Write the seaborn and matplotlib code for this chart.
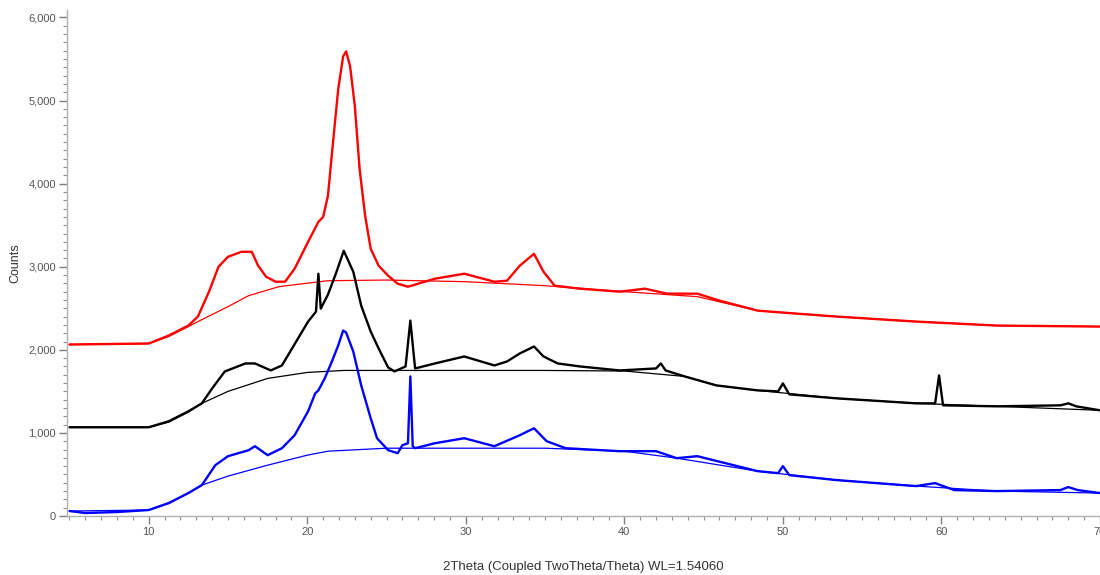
import matplotlib
matplotlib.use("Agg")
import matplotlib.pyplot as plt
import matplotlib.ticker as mticker
import seaborn as sns
import pandas as pd

# ---- data (2Theta in degrees, intensity in counts) ----
red_x = [5, 10, 11.26, 12.5, 13.1, 13.8, 14.4, 15.0, 15.85, 16.5, 16.9, 17.4, 18.0, 18.6, 19.2,
         20.05, 20.7, 21.0, 21.3, 21.6, 21.95, 22.26, 22.45, 22.7, 23.0, 23.3, 23.65, 24.0, 24.5,
         25.1, 25.7, 26.35, 28.05, 29.9, 31.8, 32.6, 33.4, 34.3, 34.9, 35.6, 37.2, 39.7, 41.3,
         42.7, 44.6, 46.0, 48.4, 50.0, 53.4, 58.4, 63.5, 70]
red_y = [2064, 2076, 2172, 2292, 2400, 2700, 3000, 3120, 3180, 3180, 3012, 2880, 2820, 2820, 2976,
         3300, 3540, 3600, 3852, 4452, 5136, 5532, 5592, 5412, 4932, 4176, 3612, 3216, 3012, 2892,
         2796, 2760, 2856, 2916, 2820, 2832, 3012, 3156, 2940, 2772, 2736, 2700, 2736, 2676, 2676,
         2592, 2472, 2448, 2400, 2340, 2292, 2280]
red_bg_x = [5, 10, 11.26, 12.5, 13.1, 15, 16.3, 18.2, 21.3, 25, 30, 35, 40, 44.6, 48.4, 53.4,
            58.4, 63.5, 70]
red_bg_y = [2064, 2076, 2160, 2280, 2340, 2520, 2652, 2760, 2832, 2840, 2820, 2772, 2700, 2640,
            2472, 2400, 2340, 2292, 2280]

black_x = [5, 10, 11.26, 12.5, 13.35, 14.0, 14.8, 16.1, 16.7, 17.7, 18.4, 19.3, 20.05, 20.55,
           20.7, 20.85, 21.3, 21.8, 22.3, 22.9, 23.4, 24.0, 24.5, 25.1, 25.5, 26.2, 26.5, 26.8,
           28.05, 29.9, 31.8, 32.6, 33.4, 34.3, 34.9, 35.8, 37.2, 39.7, 42.0, 42.3, 42.6, 43.8,
           45.8, 48.4, 49.7, 50.0, 50.4, 53.4, 58.4, 59.6, 59.85, 60.1, 63.5, 67.5, 68.0, 68.5, 70]
black_y = [1068, 1068, 1140, 1260, 1356, 1536, 1740, 1836, 1836, 1752, 1812, 2100, 2340, 2460,
           2916, 2496, 2664, 2916, 3192, 2940, 2532, 2220, 2016, 1788, 1740, 1800, 2352, 1776,
           1836, 1920, 1812, 1860, 1956, 2040, 1920, 1836, 1800, 1752, 1776, 1836, 1752, 1680,
           1572, 1512, 1500, 1596, 1464, 1416, 1356, 1356, 1692, 1332, 1320, 1332, 1356, 1320, 1272]
black_bg_x = [5, 10, 11.26, 12.5, 13.35, 15, 17.5, 20, 22.3, 25, 30, 35, 40, 43.8, 45.8, 48.4,
              53.4, 58.4, 63.5, 70]
black_bg_y = [1068, 1068, 1130, 1250, 1356, 1500, 1656, 1728, 1752, 1752, 1752, 1752, 1745, 1680,
              1572, 1512, 1416, 1356, 1320, 1272]

blue_x = [5, 6, 8, 10, 11.26, 12.5, 13.35, 14.2, 15.0, 16.3, 16.7, 17.5, 18.4, 19.2, 20.05, 20.5,
          20.7, 21.1, 21.5, 21.95, 22.26, 22.45, 22.9, 23.4, 24.0, 24.4, 25.1, 25.7, 26.0, 26.35,
          26.5, 26.65, 26.8, 28.05, 29.9, 31.8, 33.4, 34.3, 35.1, 36.3, 39.7, 42.0, 43.3, 44.6,
          48.4, 49.7, 50.0, 50.4, 53.4, 58.4, 59.6, 60.8, 63.5, 67.5, 68.0, 68.6, 70]
blue_y = [60, 36, 48, 72, 156, 276, 372, 612, 720, 792, 840, 732, 816, 972, 1260, 1476, 1512, 1656,
          1836, 2052, 2232, 2208, 1980, 1572, 1176, 936, 792, 756, 852, 876, 1680, 840, 816, 876,
          936, 840, 972, 1056, 900, 816, 780, 780, 696, 720, 540, 516, 600, 492, 432, 360, 396,
          312, 300, 312, 348, 312, 276]
blue_bg_x = [5, 10, 11.26, 12.5, 13.35, 15, 17.5, 20, 21.3, 25, 30, 35, 40, 43.3, 48.4, 53.4,
             58.4, 63.5, 70]
blue_bg_y = [60, 72, 150, 276, 372, 480, 612, 732, 780, 816, 816, 816, 780, 696, 540, 432, 360,
             300, 276]

series = [
    ("red", red_x, red_y, red_bg_x, red_bg_y, "#ff0000"),
    ("black", black_x, black_y, black_bg_x, black_bg_y, "#000000"),
    ("blue", blue_x, blue_y, blue_bg_x, blue_bg_y, "#0000ff"),
]

sns.set_theme(style="ticks")
plt.rcParams["font.family"] = ["Liberation Sans", "DejaVu Sans"]

fig = plt.figure(figsize=(11, 5.75), dpi=100)
ax = fig.add_axes([0.061, 0.1026, 0.939, 0.88])

for name, x, y, bx, by, col in series:
    df = pd.DataFrame({"x": x, "y": y})
    dbg = pd.DataFrame({"x": bx, "y": by})
    sns.lineplot(data=df, x="x", y="y", ax=ax, color=col, linewidth=1.7, sort=False)
    sns.lineplot(data=dbg, x="x", y="y", ax=ax, color=col, linewidth=0.9)

ax.set_xlim(4.85, 70)
ax.set_ylim(0, 6090)
ax.xaxis.set_major_locator(mticker.MultipleLocator(10))
ax.xaxis.set_minor_locator(mticker.MultipleLocator(1))
ax.yaxis.set_major_locator(mticker.MultipleLocator(1000))
ax.yaxis.set_minor_locator(mticker.MultipleLocator(100))
ax.yaxis.set_major_formatter(mticker.FuncFormatter(lambda v, p: f"{int(v):,}"))

for s in ["top", "right"]:
    ax.spines[s].set_visible(False)
for s in ["left", "bottom"]:
    ax.spines[s].set_color("#b0b0b0")
    ax.spines[s].set_linewidth(1.0)

ax.tick_params(axis="both", which="major", length=6, width=1, color="#808080",
               labelsize=8, labelcolor="#555555", pad=2)
ax.tick_params(axis="both", which="minor", length=3, width=0.8, color="#909090")

ax.set_xlabel("2Theta (Coupled TwoTheta/Theta) WL=1.54060", fontsize=9.5, color="#333333",
              labelpad=17)
ax.set_ylabel("Counts", fontsize=9, color="#333333", labelpad=5)
ax.grid(False)

fig.savefig("out.png", dpi=100)
